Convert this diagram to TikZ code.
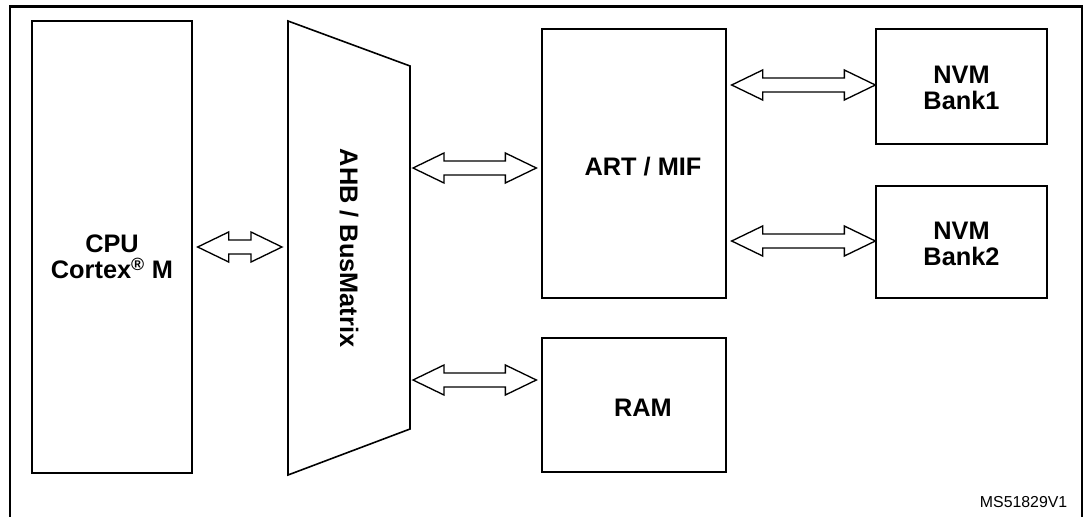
\documentclass[tikz,border=0pt]{standalone}
\usepackage{fontspec}
\setmainfont{Liberation Sans}
\usetikzlibrary{calc}
\tikzset{
  box/.style={draw, line width=1pt, inner sep=0pt},
  lbl/.style={font=\fontsize{19}{19.5}\selectfont\bfseries, align=center},
  arr/.style={draw, line width=1pt, fill=white, line join=miter},
  frame/.style={line width=1.6pt},
}
\newcommand\dblarr[2]{\draw[arr] (#1) -- ++(31,-15) -- ++(0,8) -- ($(#2)+(-31,-7)$) -- ++(0,-8) -- (#2) -- ++(-31,15) -- ++(0,-8) -- ($(#1)+(31,7)$) -- ++(0,8) -- cycle;}
\begin{document}
\begin{tikzpicture}[x=0.75pt,y=-0.75pt]
\useasboundingbox (0,0) rectangle (1084,517);
% outer frame
\draw[frame] (10,530) -- (10,6.5) -- (1082,6.5) -- (1082,530);
% boxes
\node[box, minimum width=120pt, minimum height=339pt] (cpu) at (112,247) {};
\node[lbl] (cputxt) at ($(cpu.center)+(0,10)$) {CPU\\Cortex\textsuperscript{\textregistered} M};
\node[box, minimum width=138pt, minimum height=201.75pt] (art) at (634,163.5) {};
\node[lbl] (arttxt) at ($(art.center)+(9,3)$) {ART / MIF};
\node[box, minimum width=128.25pt, minimum height=86.25pt] (nvm1) at (961.5,86.5) {};
\node[lbl] at ($(nvm1.center)+(0,1)$) {NVM\\Bank1};
\node[box, minimum width=128.25pt, minimum height=84pt] (nvm2) at (961.5,242) {};
\node[lbl] at ($(nvm2.center)+(0,2)$) {NVM\\Bank2};
\node[box, minimum width=138pt, minimum height=100.5pt] (ram) at (634,405) {};
\node[lbl] at ($(ram.center)+(9,3)$) {RAM};
% AHB trapezoid
\coordinate (ahbtl) at (288,21);
\coordinate (ahbtr) at (410,66);
\coordinate (ahbbr) at (410,429);
\coordinate (ahbbl) at (288,475);
\draw[line width=1.2pt] (ahbtl) -- (ahbtr) -- (ahbbr) -- (ahbbl) -- cycle;
\node[lbl, rotate=-90] (ahb) at (349,248) {AHB / BusMatrix};
% arrow tips
\coordinate (a1l) at ($(cpu.east)+(5,0)$);
\coordinate (a1r) at ($(ahbtl |- cpu.east)+(-6,0)$);
\coordinate (a2l) at ($(ahbtr |- 0,168)+(3,0)$);
\coordinate (a2r) at ($(art.west |- 0,168)+(-5,0)$);
\coordinate (a3l) at ($(ahbtr |- 0,380)+(3,0)$);
\coordinate (a3r) at ($(ram.west |- 0,380)+(-5,0)$);
\coordinate (a4l) at ($(art.east |- nvm1.west)+(5,-1.5)$);
\coordinate (a4r) at ($(nvm1.west)+(0,-1.5)$);
\coordinate (a5l) at ($(art.east |- nvm2.west)+(5,-1)$);
\coordinate (a5r) at ($(nvm2.west)+(0,-1)$);
\dblarr{a1l}{a1r}
\dblarr{a2l}{a2r}
\dblarr{a3l}{a3r}
\dblarr{a4l}{a4r}
\dblarr{a5l}{a5r}
\node[font=\fontsize{11.9}{14}\selectfont, anchor=east] (id) at (1072,502) {MS51829V1};
\end{tikzpicture}
\end{document}
